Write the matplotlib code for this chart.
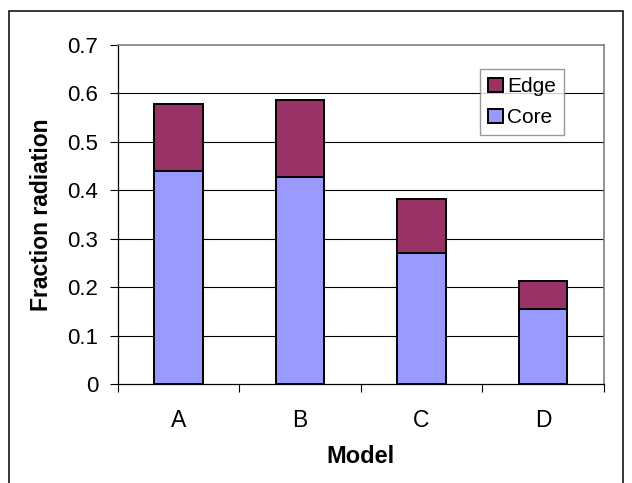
import matplotlib
matplotlib.use("Agg")
from matplotlib import pyplot as plt
from matplotlib.patches import Rectangle
import numpy as np

models = ["A", "B", "C", "D"]
core = [0.440, 0.427, 0.271, 0.155]
edge = [0.139, 0.159, 0.111, 0.057]
y_ticks = [0, 0.1, 0.2, 0.3, 0.4, 0.5, 0.6, 0.7]
y_tick_labels = ["0", "0.1", "0.2", "0.3", "0.4", "0.5", "0.6", "0.7"]

core_color = "#9999FF"
edge_color = "#993366"

plt.rcParams["font.family"] = ["Liberation Sans", "DejaVu Sans"]

fig = plt.figure(figsize=(6.32, 4.83), dpi=100)
ax = fig.add_axes([0.1862, 0.205, 0.7692, 0.7018])

# outer chart frame (open at the bottom)
fig.patches.append(Rectangle((0.0141, -0.1), 0.9712, 1.0772, transform=fig.transFigure,
                             fill=False, edgecolor="black", linewidth=1.1, zorder=0))

x = np.arange(len(models)) + 0.5
core_bars = ax.bar(x, core, width=0.4, color=core_color, edgecolor="black",
                   linewidth=1.4, zorder=3, label="Core")
edge_bars = ax.bar(x, edge, width=0.4, bottom=core, color=edge_color, edgecolor="black",
                   linewidth=1.4, zorder=3, label="Edge")

ax.set_xlim(0, len(models))
ax.set_ylim(0, 0.7)

ax.set_yticks(y_ticks)
ax.set_yticklabels(y_tick_labels, fontsize=16)
ax.tick_params(axis="y", direction="out", length=6, width=0.8, pad=8, color="black")

# category boundaries get tick marks, names sit between them
ax.set_xticks(np.arange(len(models) + 1))
ax.set_xticklabels([])
ax.set_xticks(x, minor=True)
ax.set_xticklabels(models, minor=True, fontsize=16.5)
ax.tick_params(axis="x", which="major", direction="out", length=6, width=0.8, color="black")
ax.tick_params(axis="x", which="minor", length=0, pad=18)

for yv in y_ticks[1:-1]:
    ax.axhline(yv, color="black", linewidth=0.8, zorder=1)

for side in ("top", "right"):
    ax.spines[side].set_color("#808080")
    ax.spines[side].set_linewidth(1.2)
for side in ("left", "bottom"):
    ax.spines[side].set_color("black")
    ax.spines[side].set_linewidth(0.9)

ax.set_ylabel("Fraction radiation", fontsize=16.5, fontweight="bold")
ax.yaxis.set_label_coords(-0.133, 0.5)
ax.set_xlabel("Model", fontsize=17, fontweight="bold")
ax.xaxis.set_label_coords(0.5, -0.18)

leg = ax.legend(handles=[edge_bars, core_bars], labels=["Edge", "Core"],
                loc="upper left", bbox_to_anchor=(0.746, 0.929), borderaxespad=0,
                fontsize=15, frameon=True, fancybox=False, shadow=False,
                handlelength=0.7, handleheight=0.65, handletextpad=0.2,
                borderpad=0.38, labelspacing=0.6)
leg.get_frame().set_edgecolor("#808080")
leg.get_frame().set_linewidth(1.0)
leg.set_zorder(5)

fig.savefig("out.png", dpi=100)
